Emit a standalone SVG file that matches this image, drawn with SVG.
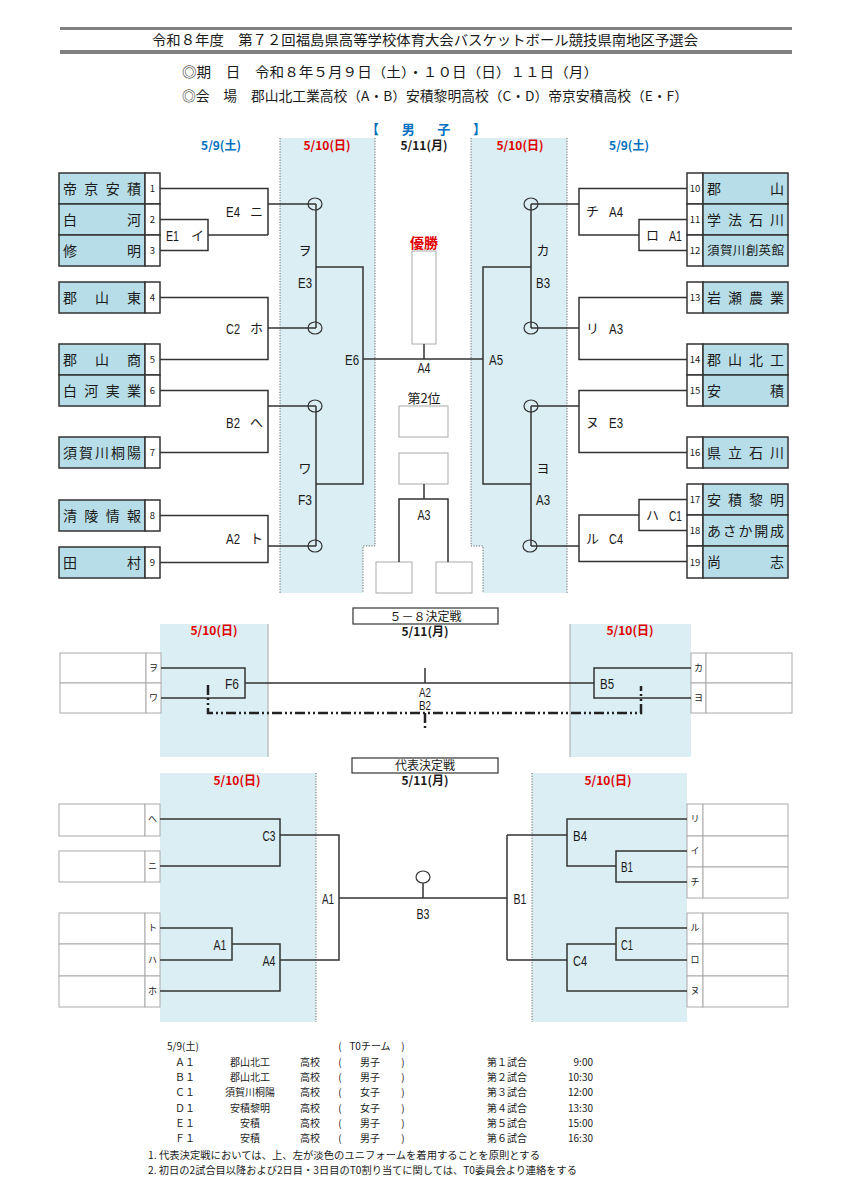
<svg xmlns="http://www.w3.org/2000/svg" width="849" height="1200" viewBox="0 0 849 1200">
<style>
text{font-family:"Noto Sans CJK JP","Liberation Sans",sans-serif;fill:#1a1a1a}
.code{font-family:"Liberation Sans","Noto Sans CJK JP",sans-serif;font-size:15px}
.kana{font-size:13px}
.team{font-size:14px}
.t12{font-size:12.5px}
.num{font-size:9.5px;text-anchor:middle}
.sk{font-size:9px;text-anchor:middle}
.mid{text-anchor:middle}
.end{text-anchor:end}
.blue{fill:#0070c0}
.red{fill:#e00000}
.dt{font-size:12px;text-anchor:middle;font-weight:bold}
.tb{font-size:10px}
.ln{fill:none;stroke:#333;stroke-width:1.5}
.dot{fill:none;stroke:#666;stroke-width:1;stroke-dasharray:1.2 1.5}
.shade{fill:#daeef3}
.tm{fill:#b7dee8;stroke:#333;stroke-width:1.5}
.nb{fill:#fff;stroke:#333;stroke-width:1.5}
.gb{fill:#fff;stroke:#aaa;stroke-width:1}
.circ{fill:none;stroke:#333;stroke-width:1.2}
</style>

<g id="header">
<line x1="60" y1="28.5" x2="792" y2="28.5" stroke="#808080" stroke-width="3"/>
<line x1="60" y1="52" x2="792" y2="52" stroke="#808080" stroke-width="4"/>
<text x="152" y="45" style="font-size:14px" textLength="546" lengthAdjust="spacingAndGlyphs">令和８年度　第７２回福島県高等学校体育大会バスケットボール競技県南地区予選会</text>
<text x="182" y="77" style="font-size:13.5px" textLength="416" lengthAdjust="spacingAndGlyphs">◎期　日　令和８年５月９日（土）・１０日（日）１１日（月）</text>
<text x="182" y="101" style="font-size:13.5px" textLength="506" lengthAdjust="spacingAndGlyphs">◎会　場　郡山北工業高校（A・B）安積黎明高校（C・D）帝京安積高校（E・F）</text>
</g>

<g id="shading-main">
<path class="shade" d="M280,138 H375 V546 H363 V593 H280 Z"/>
<path class="shade" d="M471,138 H567 V593 H483 V546 H471 Z"/>
<path class="dot" d="M280,138 V593 M375,138 V546 H363 V593 M567,138 V593 M471,138 V546 H483 V593"/>
</g>

<g id="dates-main">
<text x="366" y="134" class="blue" style="font-size:13px;font-weight:bold" textLength="120" lengthAdjust="spacing">【　男　子　】</text>
<text x="221" y="150" class="dt blue">5/9(土)</text>
<text x="327" y="150" class="dt red">5/10(日)</text>
<text x="424" y="150" class="dt">5/11(月)</text>
<text x="520" y="150" class="dt red">5/10(日)</text>
<text x="629" y="150" class="dt blue">5/9(土)</text>
</g>

<g id="teams-left">
<rect class="tm" x="59" y="173" width="86" height="31"/><rect class="nb" x="145" y="173" width="15" height="31"/>
<text class="team" x="63" y="193.5" textLength="78" lengthAdjust="spacing">帝京安積</text><text class="num" x="152.5" y="192">1</text>
<rect class="tm" x="59" y="204" width="86" height="31"/><rect class="nb" x="145" y="204" width="15" height="31"/>
<text class="team" x="63" y="224.5" textLength="78" lengthAdjust="spacing">白河</text><text class="num" x="152.5" y="223">2</text>
<rect class="tm" x="59" y="235" width="86" height="31"/><rect class="nb" x="145" y="235" width="15" height="31"/>
<text class="team" x="63" y="255.5" textLength="78" lengthAdjust="spacing">修明</text><text class="num" x="152.5" y="254">3</text>
<rect class="tm" x="59" y="282" width="86" height="31"/><rect class="nb" x="145" y="282" width="15" height="31"/>
<text class="team" x="63" y="302.5" textLength="78" lengthAdjust="spacing">郡山東</text><text class="num" x="152.5" y="301">4</text>
<rect class="tm" x="59" y="344" width="86" height="31"/><rect class="nb" x="145" y="344" width="15" height="31"/>
<text class="team" x="63" y="364.5" textLength="78" lengthAdjust="spacing">郡山商</text><text class="num" x="152.5" y="363">5</text>
<rect class="tm" x="59" y="375" width="86" height="31"/><rect class="nb" x="145" y="375" width="15" height="31"/>
<text class="team" x="63" y="395.5" textLength="78" lengthAdjust="spacing">白河実業</text><text class="num" x="152.5" y="394">6</text>
<rect class="tm" x="59" y="437" width="86" height="31"/><rect class="nb" x="145" y="437" width="15" height="31"/>
<text class="team" x="63" y="457.5" textLength="78" lengthAdjust="spacing">須賀川桐陽</text><text class="num" x="152.5" y="456">7</text>
<rect class="tm" x="59" y="500" width="86" height="31"/><rect class="nb" x="145" y="500" width="15" height="31"/>
<text class="team" x="63" y="520.5" textLength="78" lengthAdjust="spacing">清陵情報</text><text class="num" x="152.5" y="519">8</text>
<rect class="tm" x="59" y="547" width="86" height="31"/><rect class="nb" x="145" y="547" width="15" height="31"/>
<text class="team" x="63" y="567.5" textLength="78" lengthAdjust="spacing">田村</text><text class="num" x="152.5" y="566">9</text>
</g>

<g id="teams-right">
<rect class="nb" x="687" y="173" width="16" height="31"/><rect class="tm" x="703" y="173" width="85" height="31"/>
<text class="team" x="707" y="193.5" textLength="77" lengthAdjust="spacing">郡山</text><text class="num" x="695" y="192">10</text>
<rect class="nb" x="687" y="204" width="16" height="31"/><rect class="tm" x="703" y="204" width="85" height="31"/>
<text class="team" x="707" y="224.5" textLength="77" lengthAdjust="spacing">学法石川</text><text class="num" x="695" y="223">11</text>
<rect class="nb" x="687" y="235" width="16" height="31"/><rect class="tm" x="703" y="235" width="85" height="31"/>
<text class="t12" x="707" y="255" textLength="77" lengthAdjust="spacing">須賀川創英館</text><text class="num" x="695" y="254">12</text>
<rect class="nb" x="687" y="282" width="16" height="31"/><rect class="tm" x="703" y="282" width="85" height="31"/>
<text class="team" x="707" y="302.5" textLength="77" lengthAdjust="spacing">岩瀬農業</text><text class="num" x="695" y="301">13</text>
<rect class="nb" x="687" y="344" width="16" height="31"/><rect class="tm" x="703" y="344" width="85" height="31"/>
<text class="team" x="707" y="364.5" textLength="77" lengthAdjust="spacing">郡山北工</text><text class="num" x="695" y="363">14</text>
<rect class="nb" x="687" y="375" width="16" height="31"/><rect class="tm" x="703" y="375" width="85" height="31"/>
<text class="team" x="707" y="395.5" textLength="77" lengthAdjust="spacing">安積</text><text class="num" x="695" y="394">15</text>
<rect class="nb" x="687" y="437" width="16" height="31"/><rect class="tm" x="703" y="437" width="85" height="31"/>
<text class="team" x="707" y="457.5" textLength="77" lengthAdjust="spacing">県立石川</text><text class="num" x="695" y="456">16</text>
<rect class="nb" x="687" y="484" width="16" height="31"/><rect class="tm" x="703" y="484" width="85" height="31"/>
<text class="team" x="707" y="504.5" textLength="77" lengthAdjust="spacing">安積黎明</text><text class="num" x="695" y="503">17</text>
<rect class="nb" x="687" y="515" width="16" height="31"/><rect class="tm" x="703" y="515" width="85" height="31"/>
<text class="team" x="707" y="535.5" textLength="77" lengthAdjust="spacing">あさか開成</text><text class="num" x="695" y="534">18</text>
<rect class="nb" x="687" y="546" width="16" height="32"/><rect class="tm" x="703" y="546" width="85" height="32"/>
<text class="team" x="707" y="567" textLength="77" lengthAdjust="spacing">尚志</text><text class="num" x="695" y="565.5">19</text>
</g>

<g id="center-boxes">
<text x="424" y="248" class="mid red" style="font-size:14px;font-weight:bold">優勝</text>
<rect class="gb" x="412" y="251" width="24" height="93"/>
<text x="424" y="403" class="mid" style="font-size:13px">第2位</text>
<rect class="gb" x="399" y="406" width="49" height="31"/>
<rect class="gb" x="399" y="453" width="49" height="31"/>
<rect class="gb" x="376" y="562" width="36" height="31"/>
<rect class="gb" x="436" y="562" width="36" height="31"/>
</g>

<g id="connectors-main">
<path class="ln" d="M160,188.5 H268 V235 M160,219.5 H208 V250.5 H160 M208,235 H268 M268,204 H316"/>
<path class="ln" d="M160,297.5 H268 V359.5 H160 M268,328 H316 M316,204 V328"/>
<path class="ln" d="M316,267 H363 V484 H316"/>
<path class="ln" d="M160,390.5 H268 V452.5 H160 M268,406 H316"/>
<path class="ln" d="M160,515.5 H268 V562.5 H160 M268,546 H316 M316,406 V546"/>
<path class="ln" d="M363,359 H483 M424,344 V359"/>
<path class="ln" d="M687,188.5 H579 V235 H639 M687,219.5 H639 V250.5 H687 M579,204 H531"/>
<path class="ln" d="M687,297.5 H579 V359.5 H687 M579,328 H531 M531,204 V328"/>
<path class="ln" d="M531,267 H483 V484 H531"/>
<path class="ln" d="M687,390.5 H579 V452.5 H687 M579,406 H531"/>
<path class="ln" d="M687,499.5 H639 V530.5 H687 M639,515 H579 V561.5 H687 M579,546 H531 M531,406 V546"/>
<path class="ln" d="M424,484 V499 M399,562 V499 H448 V562"/>
<ellipse class="circ" cx="315" cy="204" rx="7" ry="6"/>
<ellipse class="circ" cx="315" cy="328" rx="7" ry="6"/>
<ellipse class="circ" cx="315" cy="406" rx="7" ry="6"/>
<ellipse class="circ" cx="315" cy="546" rx="7" ry="6"/>
<ellipse class="circ" cx="531" cy="204" rx="7" ry="6"/>
<ellipse class="circ" cx="531" cy="328" rx="7" ry="6"/>
<ellipse class="circ" cx="531" cy="406" rx="7" ry="6"/>
<ellipse class="circ" cx="530" cy="546" rx="7" ry="6"/>
</g>

<g id="labels-main">
<text class="code" x="226" y="217" textLength="14" lengthAdjust="spacingAndGlyphs">E4</text><text class="kana" x="250" y="216">ニ</text>
<text class="code" x="166" y="241" textLength="13" lengthAdjust="spacingAndGlyphs">E1</text><text class="kana" x="191" y="240">イ</text>
<text class="code" x="226" y="334" textLength="14" lengthAdjust="spacingAndGlyphs">C2</text><text class="kana" x="250" y="333">ホ</text>
<text class="code" x="226" y="428" textLength="14" lengthAdjust="spacingAndGlyphs">B2</text><text class="kana" x="250" y="427">へ</text>
<text class="code" x="226" y="544" textLength="14" lengthAdjust="spacingAndGlyphs">A2</text><text class="kana" x="250" y="543">ト</text>
<text class="kana mid" x="305" y="255">ヲ</text>
<text class="code mid" x="305" y="288" textLength="14" lengthAdjust="spacingAndGlyphs">E3</text>
<text class="kana mid" x="305" y="473">ワ</text>
<text class="code mid" x="305" y="505" textLength="14" lengthAdjust="spacingAndGlyphs">F3</text>
<text class="code end" x="359" y="365" textLength="14" lengthAdjust="spacingAndGlyphs">E6</text>
<text class="code" x="489" y="365" textLength="14" lengthAdjust="spacingAndGlyphs">A5</text>
<text class="code mid" x="424" y="373" textLength="13" lengthAdjust="spacingAndGlyphs">A4</text>
<text class="code mid" x="424" y="520" textLength="13" lengthAdjust="spacingAndGlyphs">A3</text>
<text class="kana" x="586" y="216">チ</text><text class="code" x="609" y="217" textLength="14" lengthAdjust="spacingAndGlyphs">A4</text>
<text class="kana" x="646" y="240">ロ</text><text class="code" x="669" y="241" textLength="13" lengthAdjust="spacingAndGlyphs">A1</text>
<text class="kana" x="586" y="333">リ</text><text class="code" x="609" y="334" textLength="14" lengthAdjust="spacingAndGlyphs">A3</text>
<text class="kana" x="586" y="427">ヌ</text><text class="code" x="609" y="428" textLength="14" lengthAdjust="spacingAndGlyphs">E3</text>
<text class="kana" x="646" y="520">ハ</text><text class="code" x="669" y="521" textLength="13" lengthAdjust="spacingAndGlyphs">C1</text>
<text class="kana" x="586" y="543">ル</text><text class="code" x="609" y="544" textLength="14" lengthAdjust="spacingAndGlyphs">C4</text>
<text class="kana mid" x="543" y="255">カ</text>
<text class="code mid" x="543" y="288" textLength="14" lengthAdjust="spacingAndGlyphs">B3</text>
<text class="kana mid" x="543" y="473">ヨ</text>
<text class="code mid" x="543" y="505" textLength="14" lengthAdjust="spacingAndGlyphs">A3</text>
</g>

<g id="section-5-8">
<rect class="shade" x="160" y="624" width="108" height="133"/>
<rect class="shade" x="570" y="624" width="121" height="133"/>
<line x1="268" y1="624" x2="268" y2="757" stroke="#aaa" stroke-width="1"/>
<line x1="570" y1="624" x2="570" y2="757" stroke="#aaa" stroke-width="1"/>
<rect x="353" y="608" width="145" height="16" fill="#fff" stroke="#333" stroke-width="1.2"/>
<text x="425.5" y="620.5" class="mid" style="font-size:12px">５－８決定戦</text>
<text x="425" y="636" class="dt">5/11(月)</text>
<text x="214" y="635" class="dt red">5/10(日)</text>
<text x="630" y="635" class="dt red">5/10(日)</text>
<rect class="gb" x="60" y="653" width="86" height="30"/><rect class="gb" x="146" y="653" width="15" height="30"/>
<rect class="gb" x="60" y="683" width="86" height="30"/><rect class="gb" x="146" y="683" width="15" height="30"/>
<text class="sk" x="153.5" y="671">ヲ</text><text class="sk" x="153.5" y="701">ワ</text>
<rect class="gb" x="691" y="653" width="15" height="30"/><rect class="gb" x="706" y="653" width="86" height="30"/>
<rect class="gb" x="691" y="683" width="15" height="30"/><rect class="gb" x="706" y="683" width="86" height="30"/>
<text class="sk" x="698.5" y="671">カ</text><text class="sk" x="698.5" y="701">ヨ</text>
<path class="ln" d="M161,668 H245 V698 H161 M245,683 H594 M691,668 H594 V698 H691 M425,668 V683"/>
<path d="M208,685 V713 H641 V686 M425,713 V728" fill="none" stroke="#222" stroke-width="2.5" stroke-dasharray="10 3 2 3 2 3"/>
<text class="code mid" x="232" y="689" textLength="14" lengthAdjust="spacingAndGlyphs">F6</text>
<text class="code mid" x="607" y="689" textLength="14" lengthAdjust="spacingAndGlyphs">B5</text>
<text class="code mid" x="425" y="696.5" style="font-size:13px" textLength="12" lengthAdjust="spacingAndGlyphs">A2</text>
<text class="code mid" x="425" y="710" style="font-size:13px" textLength="12" lengthAdjust="spacingAndGlyphs">B2</text>
</g>

<g id="section-rep">
<rect class="shade" x="160" y="773" width="156" height="249"/>
<rect class="shade" x="532" y="773" width="155" height="249"/>
<path class="dot" d="M316,773 V1022 M532,773 V1022"/>
<rect x="352" y="758" width="146" height="15" fill="#fff" stroke="#333" stroke-width="1.2"/>
<text x="425" y="770" class="mid" style="font-size:12px">代表決定戦</text>
<text x="425" y="785" class="dt">5/11(月)</text>
<text x="237" y="785" class="dt red">5/10(日)</text>
<text x="608" y="785" class="dt red">5/10(日)</text>
<rect class="gb" x="59" y="804" width="86" height="32"/><rect class="gb" x="145" y="804" width="15" height="32"/>
<rect class="gb" x="59" y="851" width="86" height="31"/><rect class="gb" x="145" y="851" width="15" height="31"/>
<rect class="gb" x="59" y="913" width="86" height="31"/><rect class="gb" x="145" y="913" width="15" height="31"/>
<rect class="gb" x="59" y="944" width="86" height="32"/><rect class="gb" x="145" y="944" width="15" height="32"/>
<rect class="gb" x="59" y="976" width="86" height="31"/><rect class="gb" x="145" y="976" width="15" height="31"/>
<text class="sk" x="152.5" y="822">へ</text><text class="sk" x="152.5" y="869">ニ</text>
<text class="sk" x="152.5" y="931">ト</text><text class="sk" x="152.5" y="963">ハ</text><text class="sk" x="152.5" y="994">ホ</text>
<rect class="gb" x="687" y="804" width="16" height="32"/><rect class="gb" x="703" y="804" width="85" height="32"/>
<rect class="gb" x="687" y="836" width="16" height="31"/><rect class="gb" x="703" y="836" width="85" height="31"/>
<rect class="gb" x="687" y="867" width="16" height="31"/><rect class="gb" x="703" y="867" width="85" height="31"/>
<rect class="gb" x="687" y="913" width="16" height="31"/><rect class="gb" x="703" y="913" width="85" height="31"/>
<rect class="gb" x="687" y="944" width="16" height="32"/><rect class="gb" x="703" y="944" width="85" height="32"/>
<rect class="gb" x="687" y="976" width="16" height="31"/><rect class="gb" x="703" y="976" width="85" height="31"/>
<text class="sk" x="695" y="822">リ</text><text class="sk" x="695" y="854">イ</text><text class="sk" x="695" y="885">チ</text>
<text class="sk" x="695" y="931">ル</text><text class="sk" x="695" y="963">ロ</text><text class="sk" x="695" y="994">ヌ</text>
<path class="ln" d="M160,819 H280 V866 H160 M280,835 H339 V960 H280 M160,928 H232 V960 H160 M232,944 H280 V991 H160 M339,898 H507 M507,835 V960"/>
<path class="ln" d="M507,835 H567 M687,819 H567 V866 H616 M687,851 H616 V882 H687 M507,960 H567 M616,944 H567 V991 H687 M687,928 H616 V960 H687 M423,883 V898"/>
<ellipse class="circ" cx="423" cy="877" rx="7" ry="6"/>
<text class="code mid" x="269" y="841" textLength="13" lengthAdjust="spacingAndGlyphs">C3</text>
<text class="code mid" x="220" y="950" textLength="13" lengthAdjust="spacingAndGlyphs">A1</text>
<text class="code mid" x="269" y="966" textLength="13" lengthAdjust="spacingAndGlyphs">A4</text>
<text class="code mid" x="328" y="904" textLength="12" lengthAdjust="spacingAndGlyphs">A1</text>
<text class="code mid" x="423" y="919" textLength="13" lengthAdjust="spacingAndGlyphs">B3</text>
<text class="code mid" x="520" y="904" textLength="13" lengthAdjust="spacingAndGlyphs">B1</text>
<text class="code mid" x="580" y="841" textLength="14" lengthAdjust="spacingAndGlyphs">B4</text>
<text class="code mid" x="627" y="872" textLength="12" lengthAdjust="spacingAndGlyphs">B1</text>
<text class="code mid" x="627" y="950" textLength="12" lengthAdjust="spacingAndGlyphs">C1</text>
<text class="code mid" x="580" y="966" textLength="14" lengthAdjust="spacingAndGlyphs">C4</text>
</g>

<g id="schedule" class="tb">
<text class="tb" x="167" y="1050">5/9(土)</text>
<text class="tb mid" x="340" y="1050">(</text><text class="tb mid" x="370" y="1050">T0チーム</text><text class="tb mid" x="403" y="1050">)</text>
<text class="tb mid" x="185" y="1066">Ａ１</text><text class="tb mid" x="250" y="1066">郡山北工</text><text class="tb mid" x="310" y="1066">高校</text><text class="tb mid" x="340" y="1066">(</text><text class="tb mid" x="370" y="1066">男子</text><text class="tb mid" x="403" y="1066">)</text><text class="tb mid" x="507" y="1066">第１試合</text><text class="tb end" x="593" y="1066">9:00</text>
<text class="tb mid" x="185" y="1081">Ｂ１</text><text class="tb mid" x="250" y="1081">郡山北工</text><text class="tb mid" x="310" y="1081">高校</text><text class="tb mid" x="340" y="1081">(</text><text class="tb mid" x="370" y="1081">男子</text><text class="tb mid" x="403" y="1081">)</text><text class="tb mid" x="507" y="1081">第２試合</text><text class="tb end" x="593" y="1081">10:30</text>
<text class="tb mid" x="185" y="1096">Ｃ１</text><text class="tb mid" x="250" y="1096">須賀川桐陽</text><text class="tb mid" x="310" y="1096">高校</text><text class="tb mid" x="340" y="1096">(</text><text class="tb mid" x="370" y="1096">女子</text><text class="tb mid" x="403" y="1096">)</text><text class="tb mid" x="507" y="1096">第３試合</text><text class="tb end" x="593" y="1096">12:00</text>
<text class="tb mid" x="185" y="1112">Ｄ１</text><text class="tb mid" x="250" y="1112">安積黎明</text><text class="tb mid" x="310" y="1112">高校</text><text class="tb mid" x="340" y="1112">(</text><text class="tb mid" x="370" y="1112">女子</text><text class="tb mid" x="403" y="1112">)</text><text class="tb mid" x="507" y="1112">第４試合</text><text class="tb end" x="593" y="1112">13:30</text>
<text class="tb mid" x="185" y="1127">Ｅ１</text><text class="tb mid" x="250" y="1127">安積</text><text class="tb mid" x="310" y="1127">高校</text><text class="tb mid" x="340" y="1127">(</text><text class="tb mid" x="370" y="1127">男子</text><text class="tb mid" x="403" y="1127">)</text><text class="tb mid" x="507" y="1127">第５試合</text><text class="tb end" x="593" y="1127">15:00</text>
<text class="tb mid" x="185" y="1142">Ｆ１</text><text class="tb mid" x="250" y="1142">安積</text><text class="tb mid" x="310" y="1142">高校</text><text class="tb mid" x="340" y="1142">(</text><text class="tb mid" x="370" y="1142">男子</text><text class="tb mid" x="403" y="1142">)</text><text class="tb mid" x="507" y="1142">第６試合</text><text class="tb end" x="593" y="1142">16:30</text>
<text class="tb" x="148" y="1159" textLength="392" lengthAdjust="spacingAndGlyphs">1. 代表決定戦においては、上、左が淡色のユニフォームを着用することを原則とする</text>
<text class="tb" x="148" y="1174" textLength="429" lengthAdjust="spacingAndGlyphs">2. 初日の2試合目以降および2日目・3日目のT0割り当てに関しては、T0委員会より連絡をする</text>
</g>
</svg>
